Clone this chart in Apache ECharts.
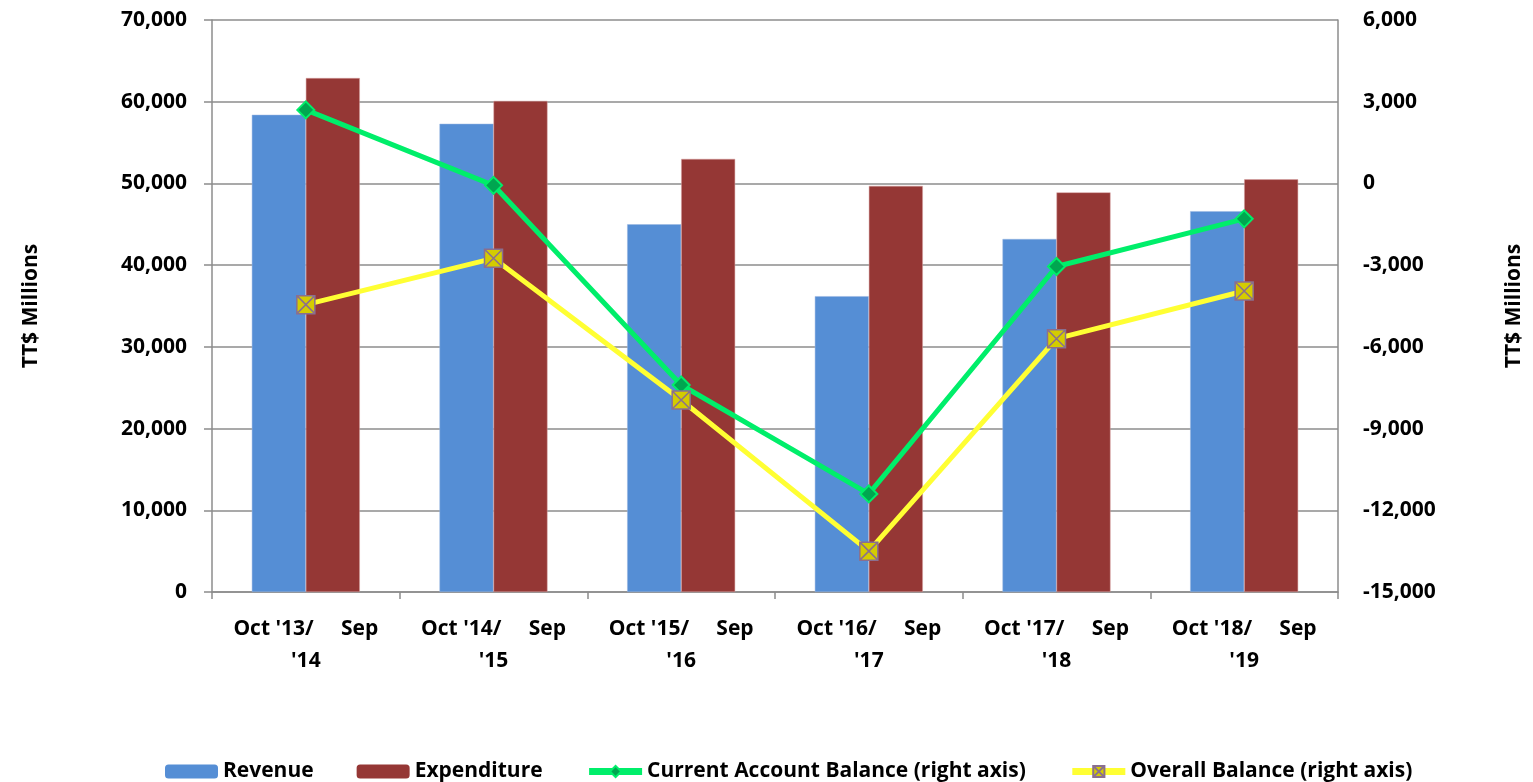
<!DOCTYPE html>
<html>
<head>
<meta charset="utf-8">
<script src="https://cdn.jsdelivr.net/npm/echarts@6/dist/echarts.min.js"></script>
<style>
  html, body { margin: 0; padding: 0; background: #fff; }
  #chart { width: 1533px; height: 782px; }
</style>
</head>
<body>
<div id="chart"></div>
<script>
const categories = [
  "Oct '13/     Sep\n'14",
  "Oct '14/     Sep\n'15",
  "Oct '15/     Sep\n'16",
  "Oct '16/     Sep\n'17",
  "Oct '17/     Sep\n'18",
  "Oct '18/     Sep\n'19"
]
const revenue = [58400, 57300, 45000, 36200, 43200, 46600]
const expenditure = [62900, 60100, 53000, 49700, 48900, 50500]
const currentAccount = [2700, -70, -7400, -11400, -3050, -1300]
const overallBalance = [-4450, -2750, -7950, -13500, -5700, -3950]

const font = 'Open Sans'
const fontSize = 21
const axisGray = '#8c8c8c'

const chart = echarts.init(document.getElementById('chart'))

const fmt = (v) => v.toLocaleString('en-US')

const option = {
  animation: false,
  textStyle: { fontFamily: font, fontWeight: 'bold', color: '#000' },
  grid: { left: 212, right: 191, top: 20, bottom: 190 },
  legend: {
    left: 160,
    top: 756,
    itemWidth: 53,
    itemHeight: 14,
    itemGap: 43,
    textStyle: { fontFamily: font, fontWeight: 'bold', fontSize: fontSize, color: '#000' },
    data: [
      { name: 'Revenue', itemStyle: { borderWidth: 0 } },
      { name: 'Expenditure', itemStyle: { borderWidth: 0 } },
      { name: 'Current Account Balance (right axis)', lineStyle: { width: 7 } },
      { name: 'Overall Balance (right axis)', lineStyle: { width: 7 } }
    ]
  },
  xAxis: {
    type: 'category',
    data: categories,
    axisLine: { lineStyle: { color: axisGray, width: 1.5 } },
    axisTick: { show: true, length: 7, lineStyle: { color: axisGray, width: 1.5 } },
    axisLabel: {
      interval: 0,
      margin: 21,
      fontFamily: font,
      fontWeight: 'bold',
      fontSize: fontSize,
      lineHeight: 32,
      color: '#000'
    }
  },
  yAxis: [
    {
      type: 'value',
      min: 0,
      max: 70000,
      interval: 10000,
      name: 'TT$ Millions',
      nameLocation: 'middle',
      nameGap: 170,
      nameTextStyle: { fontFamily: font, fontWeight: 'bold', fontSize: fontSize, color: '#000' },
      axisLine: { show: true, lineStyle: { color: axisGray, width: 1.5 } },
      axisTick: { show: true, length: 8, lineStyle: { color: axisGray, width: 1.5 } },
      axisLabel: { margin: 25, fontFamily: font, fontWeight: 'bold', fontSize: fontSize, color: '#000', formatter: fmt },
      splitLine: { lineStyle: { color: axisGray, width: 1.5 } }
    },
    {
      type: 'value',
      min: -15000,
      max: 6000,
      interval: 3000,
      name: 'TT$ Millions',
      nameLocation: 'middle',
      nameGap: 166,
      nameTextStyle: { fontFamily: font, fontWeight: 'bold', fontSize: fontSize, color: '#000' },
      axisLine: { show: true, lineStyle: { color: axisGray, width: 1.5 } },
      axisTick: { show: false },
      axisLabel: { margin: 25, fontFamily: font, fontWeight: 'bold', fontSize: fontSize, color: '#000', formatter: fmt },
      splitLine: { show: false }
    }
  ],
  series: [
    {
      name: 'Revenue',
      type: 'bar',
      data: revenue,
      barWidth: 54,
      barGap: '0%',
      itemStyle: { color: '#558ed5', borderColor: '#9bb7e0', borderWidth: 0.5 }
    },
    {
      name: 'Expenditure',
      type: 'bar',
      data: expenditure,
      barWidth: 54,
      barGap: '0%',
      itemStyle: { color: '#953735', borderColor: '#d9a3a2', borderWidth: 0.5 }
    },
    {
      name: 'Current Account Balance (right axis)',
      type: 'line',
      yAxisIndex: 1,
      data: currentAccount,
      symbol: 'diamond',
      symbolSize: 17,
      lineStyle: { color: '#00ee6a', width: 5 },
      itemStyle: { color: '#00a650', borderColor: '#00ee6a', borderWidth: 2 },
      z: 5
    },
    {
      name: 'Overall Balance (right axis)',
      type: 'line',
      yAxisIndex: 1,
      data: overallBalance,
      symbol: 'path://M0,0 L10,0 L10,10 L0,10 Z M0,0 L10,10 M10,0 L0,10',
      symbolSize: 18,
      lineStyle: { color: '#ffff33', width: 5 },
      itemStyle: { color: '#d4cc00', borderColor: '#8a6f8f', borderWidth: 1.5 },
      z: 6
    }
  ]
}

chart.setOption(option)
</script>
</body>
</html>
